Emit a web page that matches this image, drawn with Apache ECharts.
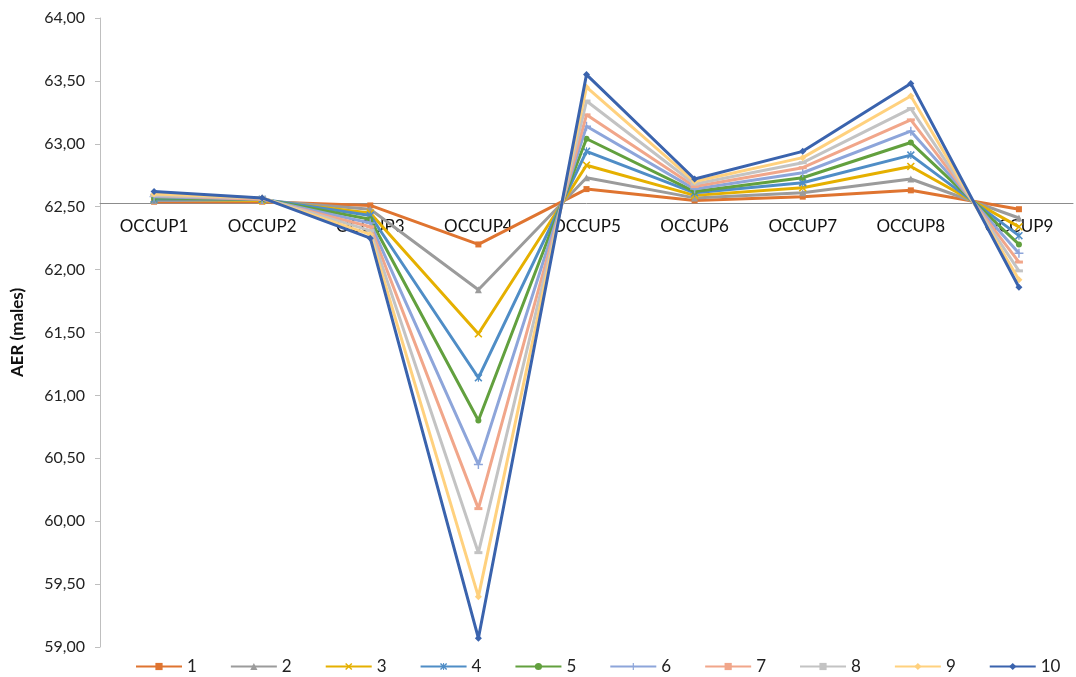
<!DOCTYPE html>
<html>
<head>
<meta charset="utf-8">
<script src="https://cdn.jsdelivr.net/npm/echarts@6/dist/echarts.min.js"></script>
<style>
  html, body { margin: 0; padding: 0; background: #fff; }
  #chart { width: 1076px; height: 677px; }
</style>
</head>
<body>
<div id="chart"></div>
<script>
var categories = ['OCCUP1', 'OCCUP2', 'OCCUP3', 'OCCUP4', 'OCCUP5', 'OCCUP6', 'OCCUP7', 'OCCUP8', 'OCCUP9'];
var seriesNames = ['1', '2', '3', '4', '5', '6', '7', '8', '9', '10'];

// AER (males) per occupation, one array per series
var s1  = [62.54, 62.54, 62.51, 62.20, 62.64, 62.55, 62.58, 62.63, 62.48];
var s2  = [62.55, 62.55, 62.48, 61.84, 62.73, 62.57, 62.61, 62.72, 62.41];
var s3  = [62.56, 62.55, 62.45, 61.49, 62.83, 62.59, 62.65, 62.82, 62.34];
var s4  = [62.56, 62.56, 62.43, 61.14, 62.94, 62.61, 62.69, 62.91, 62.27];
var s5  = [62.57, 62.56, 62.40, 60.80, 63.04, 62.62, 62.73, 63.01, 62.20];
var s6  = [62.58, 62.56, 62.37, 60.45, 63.14, 62.64, 62.77, 63.10, 62.13];
var s7  = [62.59, 62.56, 62.34, 60.10, 63.23, 62.66, 62.81, 63.19, 62.06];
var s8  = [62.59, 62.57, 62.31, 59.75, 63.34, 62.68, 62.85, 63.28, 61.99];
var s9  = [62.60, 62.57, 62.28, 59.40, 63.45, 62.70, 62.89, 63.38, 61.92];
var s10 = [62.62, 62.57, 62.25, 59.07, 63.55, 62.72, 62.94, 63.48, 61.86];
var allSeries = [s1, s2, s3, s4, s5, s6, s7, s8, s9, s10];

var yTicksMin = 59, yTicksMax = 64, yStep = 0.5;
var crossValue = 62.54; // where the category axis crosses

var colors = ['#DF7430', '#9B9B9B', '#E5B000', '#4F8DC6', '#62A03E',
              '#8DA5DA', '#F1A68A', '#C3C3C3', '#FFD17E', '#3A63AD'];

var X_PATH = 'path://M0,1.4L1.4,0L5,3.6L8.6,0L10,1.4L6.4,5L10,8.6L8.6,10L5,6.4L1.4,10L0,8.6L3.6,5Z';
var STAR_PATH = 'path://M0,1.4L1.4,0L4.3,2.9V0H5.7V2.9L8.6,0L10,1.4L6.4,5L10,8.6L8.6,10L5.7,7.1V10H4.3V7.1L1.4,10L0,8.6L3.6,5Z';
var PLUS_PATH = 'path://M4.2,0H5.8V4.2H10V5.8H5.8V10H4.2V5.8H0V4.2H4.2Z';
var DASH_PATH = 'path://M0,0H10V3H0Z';
var symbols = ['rect', 'triangle', X_PATH, STAR_PATH, 'circle', PLUS_PATH, DASH_PATH, DASH_PATH, 'diamond', 'diamond'];
var sizes = [6, 7, 8, 8, 6, 9, [8, 3], [8, 3], 7, 7];

var chart = echarts.init(document.getElementById('chart'));

var series = allSeries.map(function (d, i) {
  return {
    name: seriesNames[i],
    type: 'line',
    data: d,
    symbol: symbols[i],
    symbolSize: sizes[i],
    showAllSymbol: true,
    lineStyle: { width: 3, color: colors[i] },
    itemStyle: { color: colors[i] },
    z: 2 + i
  };
});

var option = {
  animation: false,
  color: colors,
  textStyle: { fontFamily: 'Lato, "Liberation Sans", sans-serif' },
  grid: { left: 100, right: 3, top: 18, bottom: 30, containLabel: false },
  legend: {
    data: seriesNames,
    left: 130,
    top: 658,
    width: 946,
    padding: [0, 0, 0, 5],
    itemWidth: 46,
    itemHeight: 9,
    itemGap: 33,
    textStyle: { fontSize: 17, color: '#222' }
  },
  xAxis: {
    type: 'category',
    data: categories,
    boundaryGap: true,
    offset: 0,
    axisLine: { lineStyle: { color: '#8C8C8C', width: 1 } },
    axisTick: { show: false },
    axisLabel: { fontSize: 17, color: '#111', margin: 15 },
    splitLine: { show: false }
  },
  yAxis: {
    type: 'value',
    min: yTicksMin,
    max: yTicksMax,
    interval: yStep,
    name: 'AER (males)',
    nameLocation: 'middle',
    nameGap: 74,
    nameRotate: 90,
    nameTextStyle: { fontSize: 17, fontWeight: 'bold', color: '#111' },
    axisLine: { show: true, lineStyle: { color: '#BFBFBF' } },
    axisTick: { show: true, length: 5, lineStyle: { color: '#BFBFBF' } },
    axisLabel: {
      fontSize: 16, color: '#222', margin: 15,
      formatter: function (v) { return v.toFixed(2).replace('.', ','); }
    },
    splitLine: { show: false }
  },
  series: series
};

chart.setOption(option);

// move the category axis up so it crosses the value axis at crossValue
var yCross = chart.convertToPixel({ yAxisIndex: 0 }, crossValue);
var yBottom = chart.convertToPixel({ yAxisIndex: 0 }, yTicksMin);
chart.setOption({ xAxis: { offset: yCross - yBottom } });
</script>
</body>
</html>
